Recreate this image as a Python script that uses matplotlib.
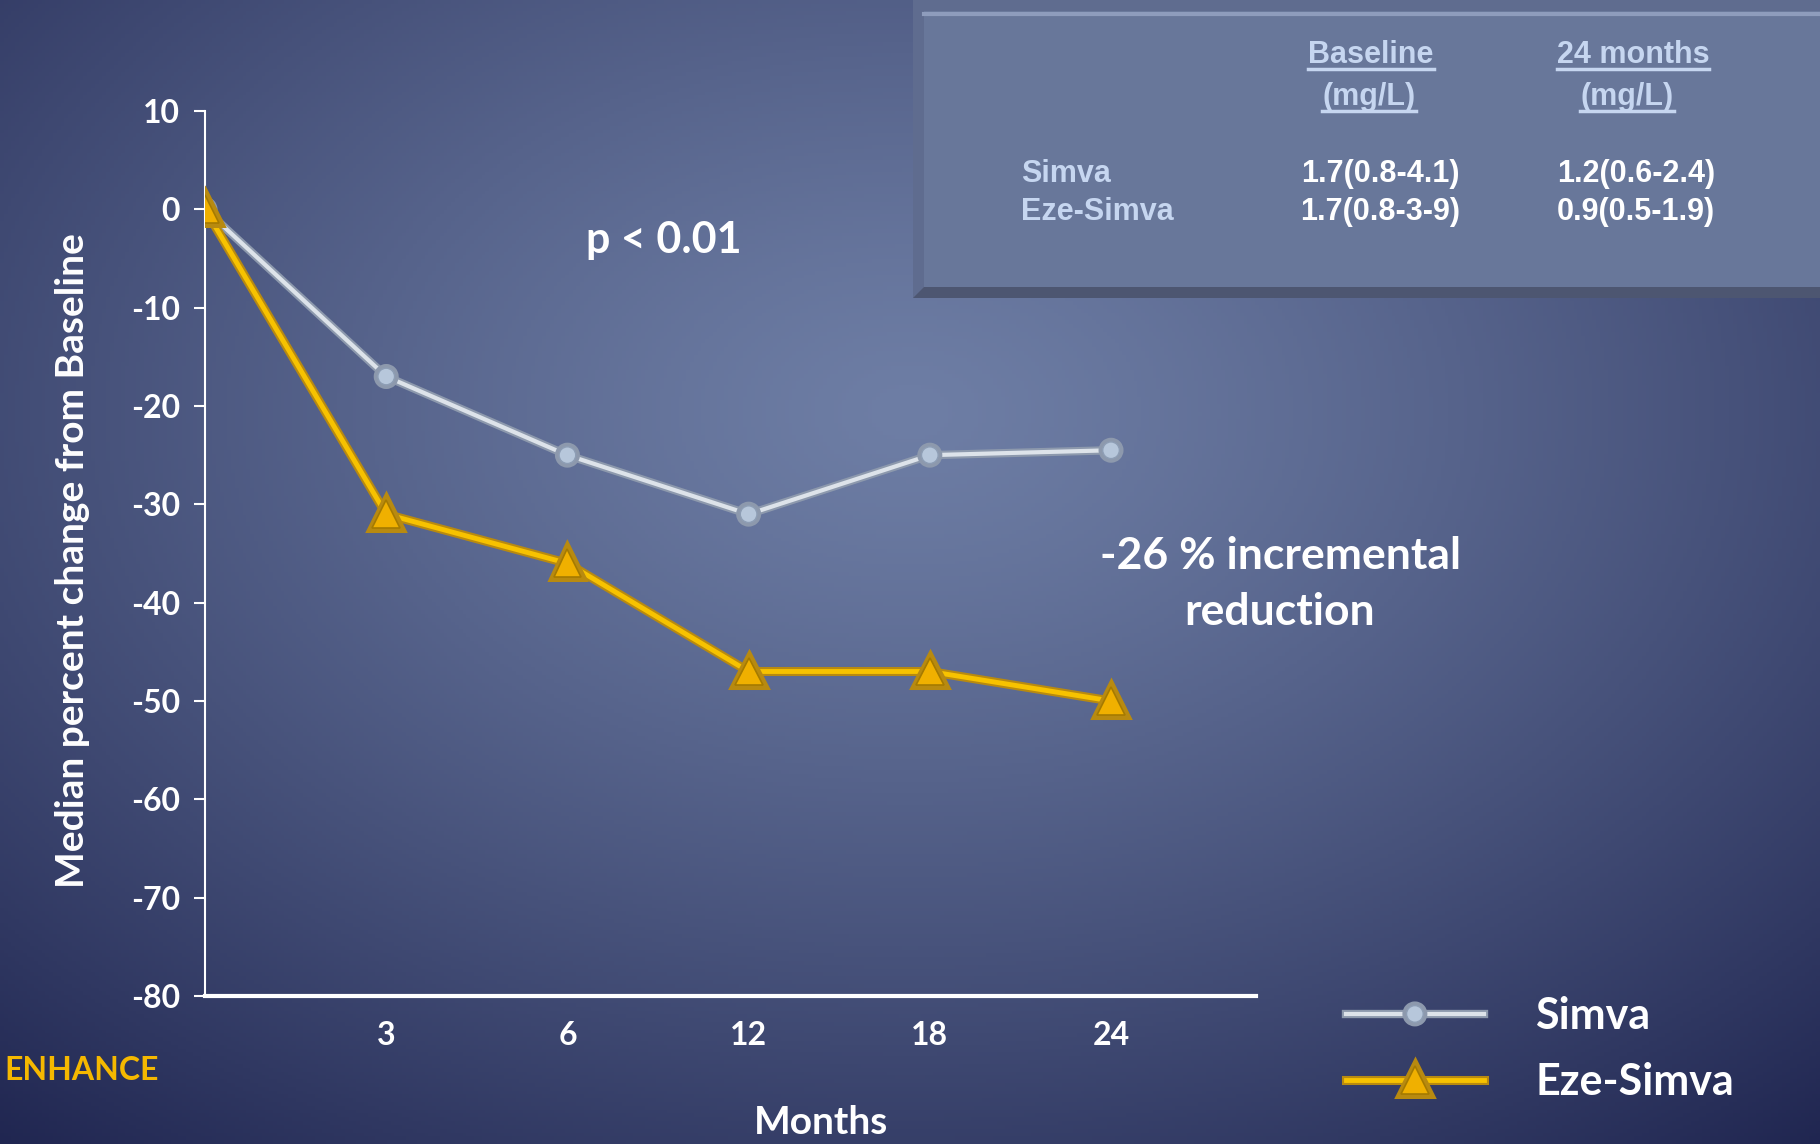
import numpy as np
import matplotlib
matplotlib.use('Agg')
import matplotlib.pyplot as plt
import matplotlib.patheffects as pe
from matplotlib.patches import Rectangle, Polygon
from matplotlib.lines import Line2D

# 数据
months = ['0', '3', '6', '12', '18', '24']
simva_change = [0, -17, -25, -31, -25, -24.5]
eze_simva_change = [0, -31, -36, -47, -47, -50]
y_ticks = [10, 0, -10, -20, -30, -40, -50, -60, -70, -80]

table_rows = ['Simva', 'Eze-Simva']
baseline_vals = ['1.7(0.8-4.1)', '1.7(0.8-3-9)']
month24_vals = ['1.2(0.6-2.4)', '0.9(0.5-1.9)']

W, H = 1820, 1144
MAIN_FONT = ['Lato', 'DejaVu Sans']
TABLE_FONT = ['Liberation Sans', 'DejaVu Sans']
TABLE_BLUE = '#c6d6f0'
GOLD = '#f5b800'

plt.rcParams['axes.unicode_minus'] = False


def hex_rgb(c):
    c = c.lstrip('#')
    return np.array([int(c[i:i + 2], 16) / 255 for i in (0, 2, 4)])


def background_image():
    yy, xx = np.mgrid[0:1:300j, 0:1:480j]
    t = np.sqrt(((xx - 0.5) / 0.85) ** 2 + ((yy - 0.36) / 0.9) ** 2)
    t = np.clip(t, 0, 1) ** 1.25
    c0, c1 = hex_rgb('#6e7ea5'), hex_rgb('#181d48')
    return c0 * (1 - t[..., None]) + c1 * t[..., None]


def fx(x):
    return x / W


def fy(y):
    return 1 - y / H


def underline(fig, txt, color):
    renderer = fig.canvas.get_renderer()
    bb = txt.get_window_extent(renderer)
    inv = fig.transFigure.inverted()
    (x0, y0), (x1, _) = inv.transform([(bb.x0, bb.y0 + 1), (bb.x1, bb.y0)])
    fig.add_artist(Line2D([x0, x1], [y0, y0], color=color, lw=2.5,
                          transform=fig.transFigure))


def main():
    fig = plt.figure(figsize=(W / 100, H / 100), dpi=100)

    bg = fig.add_axes([0, 0, 1, 1], zorder=-10)
    bg.imshow(background_image(), aspect='auto', extent=[0, 1, 0, 1])
    bg.axis('off')

    ax = fig.add_axes([fx(205), fy(996), fx(1256) - fx(205), fy(111) - fy(996)])
    ax.set_facecolor('none')
    x = np.arange(len(months))

    ax.plot(x, simva_change, color='#dde3ea', lw=3, marker='o', ms=12,
            mfc='#b7c7db', mec='#8e9eb5', mew=1, label='Simva', zorder=3,
            path_effects=[pe.withStroke(linewidth=6, foreground='#8d99ad')])
    ax.plot(x, eze_simva_change, color='#f7c200', lw=3.5, marker='^', ms=20,
            mfc='#f0b000', mec='#a57a00', mew=1.2, label='Eze-Simva', zorder=4,
            path_effects=[pe.withStroke(linewidth=6.5, foreground='#b88a10')])

    ax.set_xlim(0, 5.8)
    ax.set_ylim(-80, 10)
    ax.set_yticks(y_ticks)
    ax.set_xticks(x[1:])
    ax.set_xticklabels(months[1:])
    for s in ('top', 'right'):
        ax.spines[s].set_visible(False)
    ax.spines['left'].set_color('white')
    ax.spines['left'].set_linewidth(1.5)
    ax.spines['bottom'].set_color('white')
    ax.spines['bottom'].set_linewidth(3)
    ax.tick_params(axis='y', direction='out', length=8, width=1.5, color='white',
                   labelcolor='white', labelsize=23, pad=10)
    ax.tick_params(axis='x', length=0, labelcolor='white', labelsize=23, pad=18)
    for lab in ax.get_xticklabels() + ax.get_yticklabels():
        lab.set_fontfamily(MAIN_FONT)
        lab.set_fontweight('bold')

    leg = ax.legend(loc='upper left', bbox_to_anchor=(fx(1346), fy(996)),
                    bbox_transform=fig.transFigure, frameon=False,
                    borderpad=0, borderaxespad=0, handlelength=3.2,
                    handletextpad=1.2, labelspacing=0.6,
                    prop={'family': MAIN_FONT, 'weight': 'bold', 'size': 31})
    for t in leg.get_texts():
        t.set_color('white')

    # 文字
    fig.text(0.04, fy(561), 'Median percent change from Baseline', rotation=90,
             ha='center', va='center', color='white', fontsize=28,
             fontweight='bold', family=MAIN_FONT)
    fig.text(fx(821), fy(1122), 'Months', ha='center', va='center',
             color='white', fontsize=28, fontweight='bold', family=MAIN_FONT)
    fig.text(fx(4), fy(1070), 'ENHANCE', ha='left', va='center', color=GOLD,
             fontsize=23, fontweight='bold', family=MAIN_FONT)
    fig.text(fx(664), fy(240), 'p < 0.01', ha='center', va='center',
             color='white', fontsize=31, fontweight='bold', family=MAIN_FONT)
    fig.text(fx(1280), fy(584), '-26 % incremental\nreduction', ha='center',
             va='center', ma='center', linespacing=1.5, color='white',
             fontsize=32, fontweight='bold', family=MAIN_FONT)

    # 表格框
    x0, y0, x1, y1 = fx(913), fy(298), 1.0, 1.0
    fig.add_artist(Rectangle((x0, y0), x1 - x0, y1 - y0, transform=fig.transFigure,
                             facecolor='#4d5671', edgecolor='none', zorder=1))
    bev = 11
    fig.add_artist(Polygon([(x0, y0), (x0, y1), (x1, y1), (x1, fy(bev)),
                            (x0 + fx(bev), fy(bev)), (x0 + fx(bev), y0 + bev / H)],
                           closed=True, transform=fig.transFigure,
                           facecolor='#5f6c8f', edgecolor='none', zorder=1))
    fig.add_artist(Rectangle((x0 + fx(bev), y0 + bev / H), x1 - x0 - fx(bev),
                             y1 - y0 - 2 * bev / H, transform=fig.transFigure,
                             facecolor='#68779a', edgecolor='none', zorder=1))
    fig.add_artist(Line2D([x0 + fx(bev), x1], [fy(bev + 3)] * 2,
                          color='#8e9cbc', lw=3, transform=fig.transFigure, zorder=1))

    tkw = dict(ha='center', va='center', fontsize=22, fontweight='bold',
               family=TABLE_FONT, zorder=2)
    heads = [
        fig.text(fx(1371), fy(55), 'Baseline', color=TABLE_BLUE, **tkw),
        fig.text(fx(1369), fy(97), '(mg/L)', color=TABLE_BLUE, **tkw),
        fig.text(fx(1633), fy(55), '24 months', color=TABLE_BLUE, **tkw),
        fig.text(fx(1627), fy(97), '(mg/L)', color=TABLE_BLUE, **tkw),
    ]
    row_y = [174, 212]
    for i, name in enumerate(table_rows):
        fig.text(fx(1021), fy(row_y[i]), name, color=TABLE_BLUE,
                 **{**tkw, 'ha': 'left'})
        fig.text(fx(1380), fy(row_y[i]), baseline_vals[i], color='white', **tkw)
        fig.text(fx(1636), fy(row_y[i]), month24_vals[i], color='white', **tkw)

    fig.canvas.draw()
    for t in heads:
        underline(fig, t, TABLE_BLUE)

    fig.savefig('out.png', dpi=100)
    plt.close(fig)


if __name__ == '__main__':
    main()
